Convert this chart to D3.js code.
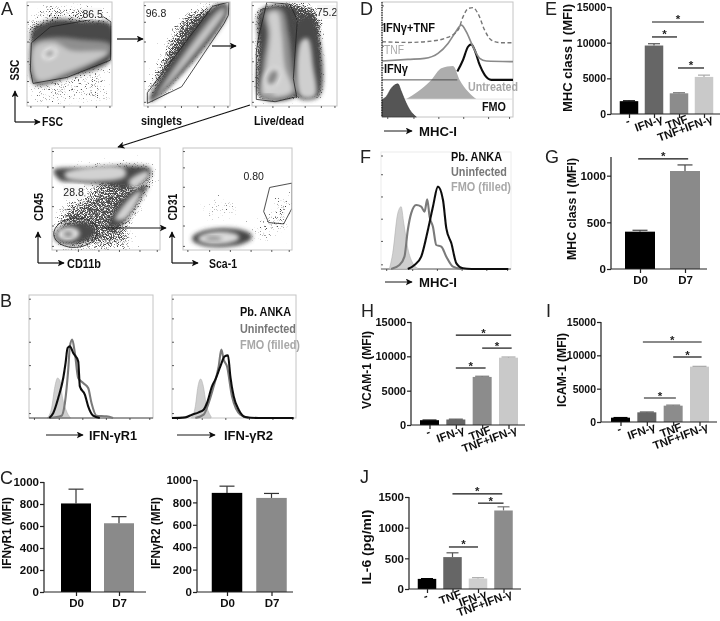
<!DOCTYPE html>
<html><head><meta charset="utf-8">
<script src="https://cdn.jsdelivr.net/npm/d3@7/dist/d3.min.js"></script>
<style>html,body{margin:0;padding:0;background:#fff}svg{display:block}text{font-family:"Liberation Sans",Arial,sans-serif}</style>
</head><body><div id="chart"></div>
<script>
// ---------- bar panels ----------
const catsD = ["D0","D7"];
const catsTreat = ["-","IFN-γ","TNF","TNF+IFN-γ"];
const catsTreatJ = ["-","TNF","IFN-γ","TNF+IFN-γ"];
const r1Values=[805,625], r1Err=[935,685];
const r2Values=[885,840], r2Err=[945,880];
const mhcEValues=[1800,9600,2900,5200], mhcEErr=[1850,9850,2980,5450];
const mhcGValues=[400,1050], mhcGErr=[415,1115];
const vcamValues=[700,800,7000,9800], vcamErr=[720,850,7100,9900];
const icamValues=[650,1450,2450,8300], icamErr=[670,1500,2530,8350];
const il6Values=[165,520,170,1280], il6Err=[170,590,185,1340];
const greys2=["#000","#8a8a8a"], greys4=["#000","#666","#8c8c8c","#c9c9c9"], greys4J=["#000","#666","#cfcfcf","#8c8c8c"];
const sigE=[[0.92,3,12900],[0.92,1.92,10800],[1.96,3,6450]];
const sigG=[[-0.04,1.07,1180]];
const sigH=[[1,3.1,13100],[2,3.12,11200],[1,2.13,8300]];
const sigI=[[0.85,3.08,12000],[2,3.08,9750],[0.89,2.1,3600]];
const sigJ=[[1,2.95,1550],[2,3,1400],[0.86,2,685]];

// ---------- histograms (channel, count) ----------
const bFmo1=[[82,0],[95,30],[105,95],[113,120],[120,112],[128,60],[138,25],[152,0]];
const bUni1=[[90,0],[125,7],[135,45],[145,145],[150,215],[157,235],[165,195],[175,120],[190,105],[205,90],[215,45],[230,7],[260,5],[280,0]];
const bPb1=[[88,0],[100,15],[115,60],[130,120],[137,165],[143,210],[150,215],[160,195],[175,170],[180,95],[195,70],[205,35],[220,7],[240,0]];
const bFmo2=[[78,0],[90,35],[98,95],[106,117],[114,95],[122,45],[137,5]];
const bUni2=[[90,0],[115,10],[130,45],[145,95],[160,155],[168,205],[175,175],[185,155],[200,65],[225,10],[250,0]];
const bPb2=[[20,0],[60,2],[80,10],[100,17],[115,25],[125,45],[140,95],[150,115],[165,155],[178,185],[188,188],[195,125],[205,65],[220,25],[240,3],[280,0],[385,0]];
const dFmo=[[22,52],[35,62],[50,87],[70,100],[78,82],[90,52],[105,22],[125,0]];
const dUntreated=[[95,0],[130,23],[170,58],[200,93],[235,100],[255,58],[280,23],[305,0]];
const dIfn=[[248,25],[265,60],[280,100],[290,107],[300,90],[315,45],[330,15],[350,0],[415,0]];
const dTnf=[[22,2],[100,7],[150,10],[190,25],[220,55],[240,85],[260,110],[275,90],[295,45],[315,10],[335,2],[415,0]];
const dBoth=[[22,3],[100,1],[170,5],[210,13],[250,38],[265,78],[280,103],[295,106],[310,88],[330,38],[350,8],[380,0],[415,0]];
const fFmo=[[45,0],[55,47],[70,167],[80,187],[88,137],[100,62],[115,17],[130,2]];
const fUni=[[50,0],[75,12],[90,37],[100,117],[110,167],[125,192],[140,187],[150,172],[158,209],[165,157],[175,127],[185,72],[200,67],[215,37],[235,7],[260,0]];
const fPb=[[100,0],[120,12],[140,37],[160,117],[175,187],[190,247],[205,207],[215,122],[230,77],[245,17],[265,2],[290,0],[400,0]];

// ---------- dot-plot density regions, read in channel units of each plot ----------
const a1Sparse=[[22,130],[272,130],[272,315],[22,315]];
const a1Cloud=[[22,60],[272,60],[272,110],[22,130]];
const a1Top=[[35,25],[260,25],[260,60],[35,60]];
const a1Dark=[[35,90],[100,58],[190,62],[272,72],[272,178],[140,232],[42,250],[32,130]];
const a1Mid=[[36,130],[100,112],[180,118],[270,132],[270,155],[140,226],[45,248],[34,200]];
const a1Light=[[42,140],[100,125],[150,150],[262,156],[140,216],[52,240]];
const a1Ell=[[88,160,24,17,-25,"#ececec"],[88,160,14,9,-25,"#a0a0a0"]];
const a1Gate=[[33,128],[90,80],[190,62],[250,50],[272,65],[270,180],[140,232],[38,250],[30,210]];
const a2Cloud=[[385,270],[450,120],[490,45],[595,8],[625,8],[590,70],[430,280],[390,305]];
const a2Dark=[[390,290],[575,22],[620,10],[620,48],[428,280],[388,305]];
const a2Mid=[[405,292],[590,30],[616,18],[616,40],[424,278]];
const a2Light=[[415,285],[598,38],[612,32],[420,280]];
const a2Gate=[[382,278],[578,18],[627,5],[625,45],[612,70],[485,260],[382,310]];
const a3Cloud=[[50,20],[170,8],[225,20],[245,60],[245,292],[50,298]];
const a3DarkL=[[62,30],[150,18],[170,60],[170,285],[62,290],[56,150]];
const a3DarkR=[[170,65],[210,45],[236,100],[238,288],[172,290]];
const a3MidL=[[72,35],[125,28],[145,100],[158,200],[168,280],[62,290],[66,200],[80,100]];
const a3LightL=[[85,40],[112,35],[125,100],[135,200],[155,275],[70,285],[78,200],[90,100]];
const a3LightR=[[182,125],[203,115],[220,200],[226,288],[182,288]];
const a3Ell=[[97,232,24,34,25,"#dcdcdc"],[97,232,13,23,25,"#858585"],[85,287,20,5,0,"#888"]];
const a3Gate=[[48,155],[55,110],[80,5],[150,12],[172,60],[160,235],[170,290],[105,305],[48,298]];
const a4Cloud=[[40,90],[200,75],[320,75],[350,100],[310,180],[255,275],[300,328],[60,328],[42,285],[70,195],[190,130]];
const a4Band1=[[42,92],[150,85],[270,78],[330,88],[322,118],[260,145],[200,136],[110,128],[60,122]];
const a4Band2=[[322,135],[292,190],[242,258],[204,262],[218,220],[260,165]];
const a4Light=[[[75,100],[250,85],[255,110],[180,125],[80,116]],[[265,125],[320,95],[325,107],[280,145]],[[225,240],[280,165],[302,155],[255,238]]];
const a4Ell=[[105,282,62,33,-10,"#4a4a4a"],[85,284,34,21,-5,"#dedede"],[85,284,13,8,0,"#7f7f7f"]];
const a4Gate=[107,280,65,44,-5];
const a5Tail=[[235,265],[300,220],[362,160],[362,240],[300,295],[240,305]];
const a5Spots=[[[300,230],[330,170],[358,160],[350,215],[320,245]],[[70,190],[170,150],[240,230],[120,250]]];
const a5Ell=[[155,293,90,28,-2,"#444"],[145,294,62,19,-2,"#dcdcdc"],[130,295,26,6,0,"#8c8c8c"]];
const a5Gate=[[298,143],[365,130],[365,205],[340,252],[295,248],[280,215]];

const W=720,H=621;
const svg=d3.select("#chart").append("svg").attr("width",W).attr("height",H);
const defs=svg.append("defs");
function stippleFilter(id,std,gain,off){
  const f=defs.append("filter").attr("id",id).attr("filterUnits","userSpaceOnUse")
    .attr("x",0).attr("y",0).attr("width",W).attr("height",H).attr("color-interpolation-filters","sRGB");
  f.append("feGaussianBlur").attr("in","SourceAlpha").attr("stdDeviation",std).attr("result","b");
  f.append("feTurbulence").attr("type","fractalNoise").attr("baseFrequency",1.35).attr("numOctaves",1).attr("seed",7).attr("result","t");
  f.append("feColorMatrix").attr("in","t").attr("values","0 0 0 0 0  0 0 0 0 0  0 0 0 0 0  1.6 0 0 0 -0.3").attr("result","n");
  f.append("feComposite").attr("in","n").attr("in2","b").attr("operator","arithmetic").attr("k1",0).attr("k2",1).attr("k3",gain).attr("k4",off).attr("result","c");
  const ct=f.append("feComponentTransfer").attr("in","c");
  ct.append("feFuncA").attr("type","linear").attr("slope",4).attr("intercept",0);
}
stippleFilter("stW",8,0.85,-1);
stippleFilter("stN",3.5,0.85,-1);
defs.append("filter").attr("id","soft").attr("x","-20%").attr("y","-20%").attr("width","140%").attr("height","140%")
  .append("feGaussianBlur").attr("stdDeviation",2);
defs.append("filter").attr("id","whole").attr("filterUnits","userSpaceOnUse").attr("x",0).attr("y",0).attr("width",W).attr("height",H)
  .append("feGaussianBlur").attr("stdDeviation",0.4);
defs.append("marker").attr("id","ah").attr("viewBox","0 0 10 10").attr("refX",9).attr("refY",5)
  .attr("markerWidth",7).attr("markerHeight",7).attr("markerUnits","userSpaceOnUse").attr("orient","auto")
  .append("path").attr("d","M0,0L10,5L0,10L2.5,5Z").attr("fill","#111");
const root=svg.append("g").attr("filter","url(#whole)");

function T(x,y,s,o={}){
  const t=root.append("text").attr("x",x).attr("y",y).text(s)
    .attr("font-size",o.size||12).attr("font-weight",o.weight||"bold").attr("fill",o.fill||"#111")
    .attr("text-anchor",o.anchor||"start").attr("dominant-baseline","central");
  if(o.len) t.attr("textLength",o.len).attr("lengthAdjust","spacingAndGlyphs");
  if(o.rot!==undefined) t.attr("transform",`rotate(${o.rot},${x},${y})`);
  return t;
}
function arrow(pts,w){
  root.append("path").attr("d",d3.line()(pts)).attr("fill","none").attr("stroke","#111")
    .attr("stroke-width",w||1.2).attr("marker-end","url(#ah)");
}
[["A",1,9],["B",0,301],["C",0,478],["D",360,9],["E",545,9],["F",360,157],["G",545,157],["H",361,311],["I",546,311],["J",360,477]]
  .forEach(d=>T(d[1],d[2],d[0],{size:18,weight:"normal",fill:"#222"}));

// ---------- flow plots ----------
let clipN=0;
function flowPlot(box,dom){
  const x=d3.scaleLinear().domain(dom.x).range([box[0],box[1]]);
  const y=d3.scaleLinear().domain(dom.y).range([box[2],box[3]]);
  const id="c"+(clipN++);
  defs.append("clipPath").attr("id",id).append("rect").attr("x",box[0]).attr("y",box[2]).attr("width",box[1]-box[0]).attr("height",box[3]-box[2]);
  const g=root.append("g").attr("clip-path",`url(#${id})`);
  const line=d3.line().x(d=>x(d[0])).y(d=>y(d[1]));
  const api={x,y,g,
    stipple(p,op,f){g.append("path").attr("d",line.curve(d3.curveLinearClosed)(p)).attr("fill","#000").attr("fill-opacity",op).attr("filter",`url(#${f||"stW"})`).attr("opacity",0.7);},
    solid(p,c,soft=true){const e=g.append("path").attr("d",line.curve(d3.curveCatmullRomClosed)(p)).attr("fill",c);if(soft)e.attr("filter","url(#soft)");},
    ell(a,soft=true){const kx=Math.abs(x(1)-x(0)),ky=Math.abs(y(1)-y(0));
      const e=g.append("ellipse").attr("cx",x(a[0])).attr("cy",y(a[1])).attr("rx",a[2]*kx).attr("ry",a[3]*ky)
       .attr("transform",`rotate(${a[4]},${x(a[0])},${y(a[1])})`).attr("fill",a[5]);if(soft)e.attr("filter","url(#soft)");},
    gate(p){g.append("path").attr("d",line.curve(d3.curveLinearClosed)(p)).attr("fill","none").attr("stroke","#222").attr("stroke-width",0.8);},
    gateEll(a){g.append("ellipse").attr("cx",x(a[0])).attr("cy",y(a[1])).attr("rx",a[2]*Math.abs(x(1)-x(0))).attr("ry",a[3]*Math.abs(y(1)-y(0)))
       .attr("transform",`rotate(${a[4]},${x(a[0])},${y(a[1])})`).attr("fill","none").attr("stroke","#222").attr("stroke-width",0.8);},
    label(cx,cy,s,bw,bh,size){
      if(bw) g.append("rect").attr("x",x(cx)-bw/2).attr("y",y(cy)-bh/2).attr("width",bw).attr("height",bh).attr("fill","#f8f8f8");
      g.append("text").attr("x",x(cx)).attr("y",y(cy)).text(s).attr("font-size",size||10).attr("fill","#222")
        .attr("text-anchor","middle").attr("dominant-baseline","central");}
  };
  frame(box);
  flowTicks(box);
  return api;
}
const flowMajorFrac=[0.04,0.24,0.43,0.62,0.81,0.97];
function flowTicks(box){
  const tx=d3.scaleLinear().domain([0,1]).range([box[0],box[1]]), ty=d3.scaleLinear().domain([0,1]).range([box[3],box[2]]);
  const gx=root.append("g").attr("transform",`translate(0,${box[3]})`).call(d3.axisBottom(tx).tickValues(flowMajorFrac).tickSize(2).tickFormat(""));
  const gy=root.append("g").attr("transform",`translate(${box[0]},0)`).call(d3.axisLeft(ty).tickValues(flowMajorFrac).tickSize(-2).tickFormat(""));
  [gx,gy].forEach(a=>{a.select(".domain").remove();a.selectAll("line").attr("stroke","#333").attr("stroke-width",.8);});
}
function frame(box,c){
  root.append("rect").attr("x",box[0]).attr("y",box[2]).attr("width",box[1]-box[0]).attr("height",box[3]-box[2])
    .attr("fill","none").attr("stroke",c||"#c4c4c4").attr("stroke-width",1);
}
// A1
{const p=flowPlot([27,112,2,106],{x:[20,275],y:[5,318]});
 p.stipple(a1Sparse,.45); p.stipple(a1Top,1); p.stipple(a1Cloud,1);
 p.solid(a1Dark,"#4a4a4a"); p.solid(a1Mid,"#8f8f8f"); p.solid(a1Light,"#c6c6c6");
 a1Ell.forEach(e=>p.ell(e)); p.gate(a1Gate); p.label(217,40,"86.5",18,12,10.5);}
// A2
{const p=flowPlot([144,230,2,106],{x:[372,630],y:[5,318]});
 p.stipple(a2Cloud,1,"stW"); p.solid(a2Dark,"#484848"); p.solid(a2Mid,"#929292"); p.solid(a2Light,"#d0d0d0");
 p.gate(a2Gate); p.label(408,38,"96.8",0,0,10.5);}
// A3
{const p=flowPlot([252,337,2,106],{x:[35,292],y:[5,318]});
 p.stipple(a3Cloud,1,"stN"); p.solid(a3DarkL,"#484848"); p.solid(a3DarkR,"#484848");
 p.solid(a3MidL,"#8f8f8f"); p.solid(a3LightL,"#cfcfcf"); p.solid(a3LightR,"#cfcfcf"); a3Ell.forEach(e=>p.ell(e));
 p.gate(a3Gate); p.label(262,35,"75.2",20,14,10.5);}
// A4
{const p=flowPlot([52,160,148,250],{x:[37,358],y:[25,332]});
 p.stipple(a4Cloud,.85,"stW"); p.solid(a4Band1,"#4a4a4a"); p.solid(a4Band2,"#4a4a4a");
 a4Light.forEach(l=>p.solid(l,"#d2d2d2")); a4Ell.forEach(e=>p.ell(e));
 p.gateEll(a4Gate); p.label(101,157,"28.8",21,15,10.5);}
// A5
{const p=flowPlot([183,292,148,250],{x:[38,365],y:[25,330]});
 p.stipple(a5Tail,.6,"stW"); p.stipple(a5Spots[0],.95,"stW"); p.stipple(a5Spots[1],.4,"stW");
 a5Ell.forEach(e=>p.ell(e)); p.gate(a5Gate); p.label(250,110,"0.80",0,0,10.5);}

T(14,70,"SSC",{rot:-90,anchor:"middle",size:13,len:21});
arrow([[15,122],[15,91]]);
arrow([[15,122],[40,122]]);
T(42,121,"FSC",{size:13,len:21});
T(141,120,"singlets",{size:13,len:41});
T(254,120,"Live/dead",{size:13,len:50});
arrow([[117,39],[143,39]]); arrow([[212,46],[236,46]]);
arrow([[250,105],[118,147]]); arrow([[103,228],[166,228]]);
T(38,207,"CD45",{rot:-90,anchor:"middle",size:13,len:28});
arrow([[38,263],[38,232]]); arrow([[38,263],[64,263]]);
T(67,263,"CD11b",{size:13,len:34});
T(172,207,"CD31",{rot:-90,anchor:"middle",size:13,len:27});
arrow([[172,263],[172,232]]); arrow([[172,263],[198,263]]);
T(209,263,"Sca-1",{size:13,len:28});

// ---------- histograms ----------
function hist(box,chanDom,maxY,series){
  const x=d3.scaleLinear().domain(chanDom).range([box[0],box[1]]);
  const y=d3.scaleLinear().domain([0,maxY]).range([box[3],box[2]]);
  series.forEach(s=>{
    const base=s.base||0;
    const yb=v=>y(v+base);
    if(s.fill) root.append("path").attr("d",d3.area().x(d=>x(d[0])).y0(yb(0)).y1(d=>yb(d[1])).curve(d3.curveMonotoneX)(s.data)).attr("fill",s.fill).attr("stroke",s.edge||"none").attr("stroke-width",.6);
    if(s.stroke) root.append("path").attr("d",d3.line().x(d=>x(d[0])).y(d=>yb(d[1])).curve(d3.curveMonotoneX)(s.data)).attr("fill","none").attr("stroke",s.stroke).attr("stroke-width",s.w||1.6).attr("stroke-dasharray",s.dash||null).attr("stroke-linejoin","round");
  });
}
const legendFill={pb:"#111",un:"#777",fmo:"#a8a8a8"};
// B1
frame([29,153,295,418]);
flowTicks([29,153,295,418]);
hist([29,153,295,418],[27,400],369,[{data:bFmo1,fill:"#cfcfcf",edge:"#b0b0b0"},{data:[[27,0],[400,0]],stroke:"#333",w:.8},{data:bUni1,stroke:"#7a7a7a",w:2.1},{data:bPb1,stroke:"#111",w:2.1}]);
// B2
frame([172,296,295,418]);
flowTicks([172,296,295,418]);
hist([172,296,295,418],[20,392],369,[{data:bFmo2,fill:"#cfcfcf",edge:"#b0b0b0"},{data:bUni2,stroke:"#7a7a7a",w:2.1},{data:bPb2,stroke:"#111",w:2.1}]);
T(240,312,"Pb. ANKA",{len:51,size:12.5});
T(240,329,"Uninfected",{len:56,size:12.5,fill:legendFill.un});
T(240,345,"FMO (filled)",{len:60,size:12.5,fill:legendFill.fmo});
arrow([[46,435],[83,435]],1); T(89,435,"IFN-γR1",{size:13,len:48});
arrow([[177,435],[215,435]],1); T(224,435,"IFN-γR2",{size:13,len:49});

// D
frame([382,513,2,117]);
flowTicks([382,513,2,117]);
hist([382,513,2,117],[22,415],347,[
 {data:dUntreated,fill:"#adadad",base:54},
 {data:[[22,0],[415,0]],stroke:"#ddd",w:.8,base:54},
 {data:dFmo,fill:"#555",edge:"#333"},
 {data:[[22,0],[248,0]],stroke:"#444",w:.9,base:112},
 {data:dIfn,stroke:"#111",w:2.1,base:112},
 {data:dTnf,stroke:"#8a8a8a",w:1.7,base:167},
 {data:dBoth,stroke:"#777",w:1.4,dash:"4 2.5",base:224}]);
root.append("path").attr("d",d3.line()([[382,2],[382,117]])).attr("stroke","#222").attr("stroke-width",1.2).attr("stroke-dasharray","1.5 1");
T(383,28,"IFNγ+TNF",{len:52,size:12.5});
T(384,50,"TNF",{len:20,size:12,weight:"normal",fill:"#aaa"});
T(384,69,"IFNγ",{len:24,size:12.5});
T(468,87,"Untreated",{len:50,size:12.5,fill:"#a8a8a8"});
T(482,107,"FMO",{len:24,size:12.5});
arrow([[384,131],[412,131]],1); T(419,131,"MHC-I",{size:13,len:38});

// F
frame([381,511,152,269],"#ececec");
flowTicks([381,511,152,269]);
root.append("path").attr("d",d3.line()([[381,269],[511,269]])).attr("stroke","#333").attr("stroke-width",.8);
hist([381,511,152,269],[20,408],351,[{data:fFmo,fill:"#cfcfcf",edge:"#b0b0b0"},{data:fUni,stroke:"#7a7a7a",w:2.1},{data:fPb,stroke:"#111",w:2.1}]);
T(451,157,"Pb. ANKA",{len:51,size:12.5});
T(451,172,"Uninfected",{len:56,size:12.5,fill:legendFill.un});
T(451,187,"FMO (filled)",{len:60,size:12.5,fill:legendFill.fmo});
arrow([[385,282],[412,282]],1); T(419,282,"MHC-I",{size:13,len:38});

// ---------- bars ----------
function barPanel(o){
  const xp=d3.scalePoint().domain(o.cats).range([o.c0,o.c1]);
  const xi=d3.scaleLinear().domain([0,o.cats.length-1]).range([o.c0,o.c1]);
  const y=d3.scaleLinear().domain([0,o.max]).range([o.y0,o.yt]);
  const g=root.append("g");
  o.cats.forEach((c,i)=>{
    g.append("rect").attr("x",xp(c)-o.bw/2).attr("width",o.bw).attr("y",y(o.vals[i])).attr("height",y(0)-y(o.vals[i])).attr("fill",o.colors[i]);
    const ec=o.errColor||d3.color(o.colors[i]).darker(.5);
    g.append("path").attr("d",d3.line()([[xp(c),y(o.vals[i])],[xp(c),y(o.err[i])]])).attr("stroke",ec).attr("stroke-width",1.2);
    g.append("path").attr("d",d3.line()([[xp(c)-o.cap/2,y(o.err[i])],[xp(c)+o.cap/2,y(o.err[i])]])).attr("stroke",ec).attr("stroke-width",1.2);
  });
  const ay=g.append("g").attr("transform",`translate(${o.x0},0)`).call(d3.axisLeft(y).tickValues(o.ticks).tickSize(4).tickPadding(1).tickFormat(d3.format("d")));
  ay.selectAll("text").attr("font-size",o.tickSize||11.5).attr("font-weight","bold").attr("font-family","Liberation Sans").attr("fill","#111");
  ay.select(".domain").attr("stroke","#222").attr("stroke-width",1.2).attr("d",`M0,${o.y0}V${o.yt}`);
  ay.selectAll("line").attr("stroke","#222").attr("stroke-width",1.2);
  const ax=g.append("g").attr("transform",`translate(0,${o.y0})`).call(d3.axisBottom(xp).tickSize(4).tickPadding(3));
  ax.select(".domain").attr("stroke","#222").attr("stroke-width",1.2).attr("d",`M${o.x0},0H${o.x1}`);
  ax.selectAll("line").attr("stroke","#222").attr("stroke-width",1.2);
  ax.selectAll("text").attr("font-size",o.catSize||11.5).attr("font-weight","bold").attr("font-family","Liberation Sans").attr("fill","#111");
  if(o.rot){
    ax.selectAll("text").attr("text-anchor","end").attr("y",0).attr("dy",0)
      .attr("transform",d=>`translate(${d==="-"?1:9},${d==="-"?10:8}) rotate(-20)`);
  }
  (o.sig||[]).forEach(s=>{
    const yy=y(s[2]),a=xi(s[0]),b=xi(s[1]);
    g.append("path").attr("d",d3.line()([[a,yy],[b,yy]])).attr("stroke","#111").attr("stroke-width",1.2);
    g.append("text").attr("x",(a+b)/2).attr("y",yy+1.5).attr("text-anchor","middle").attr("font-size",11.5).attr("font-weight","bold").attr("fill","#222").text("*");
  });
  T(o.lab[0],o.lab[1],o.label,{rot:-90,anchor:"middle",size:12.5,len:o.lab[2]});
}
barPanel({cats:catsD,vals:r1Values,err:r1Err,colors:greys2,errColor:"#333",c0:76,c1:119,bw:30,cap:15,x0:44,x1:146,y0:592,yt:482,max:1000,ticks:[0,200,400,600,800,1000],label:"IFNγR1 (MFI)",lab:[7,533,72]});
barPanel({cats:catsD,vals:r2Values,err:r2Err,colors:greys2,errColor:"#333",c0:227,c1:271.5,bw:30.5,cap:15,x0:197,x1:293,y0:592,yt:480,max:1000,ticks:[0,200,400,600,800,1000],label:"IFNγR2 (MFI)",lab:[156,533,72]});
barPanel({cats:catsTreat,vals:mhcEValues,err:mhcEErr,colors:greys4,c0:629,c1:704,bw:18.5,cap:12,x0:611,x1:720,y0:114,yt:7,max:15000,ticks:[0,5000,10000,15000],tickSize:10.5,label:"MHC class I (MFI)",lab:[568,58,108],rot:true,sig:sigE});
barPanel({cats:catsD,vals:mhcGValues,err:mhcGErr,colors:greys2,errColor:"#444",c0:640,c1:685,bw:30,cap:15,x0:611,x1:707,y0:269,yt:157,max:1200,ticks:[0,500,1000],label:"MHC class I (MFI)",lab:[572,209,102],sig:sigG});
barPanel({cats:catsTreat,vals:vcamValues,err:vcamErr,colors:greys4,c0:429.5,c1:508.5,bw:19,cap:14,x0:411,x1:525,y0:425,yt:322,max:15000,ticks:[0,5000,10000,15000],tickSize:11,label:"VCAM-1 (MFI)",lab:[367,370,78],rot:true,sig:sigH});
barPanel({cats:catsTreat,vals:icamValues,err:icamErr,colors:greys4,c0:620.5,c1:699.5,bw:19,cap:14,x0:601,x1:717,y0:422,yt:322,max:15000,ticks:[0,5000,10000,15000],tickSize:10.5,label:"ICAM-1 (MFI)",lab:[562,370,74],rot:true,sig:sigI});
barPanel({cats:catsTreatJ,vals:il6Values,err:il6Err,colors:greys4J,c0:427,c1:503.5,bw:18.5,cap:12,x0:409,x1:521,y0:589,yt:497,max:1500,ticks:[0,500,1000,1500],label:"IL-6 (pg/ml)",lab:[367,547,75],rot:true,sig:sigJ});
</script></body></html>
